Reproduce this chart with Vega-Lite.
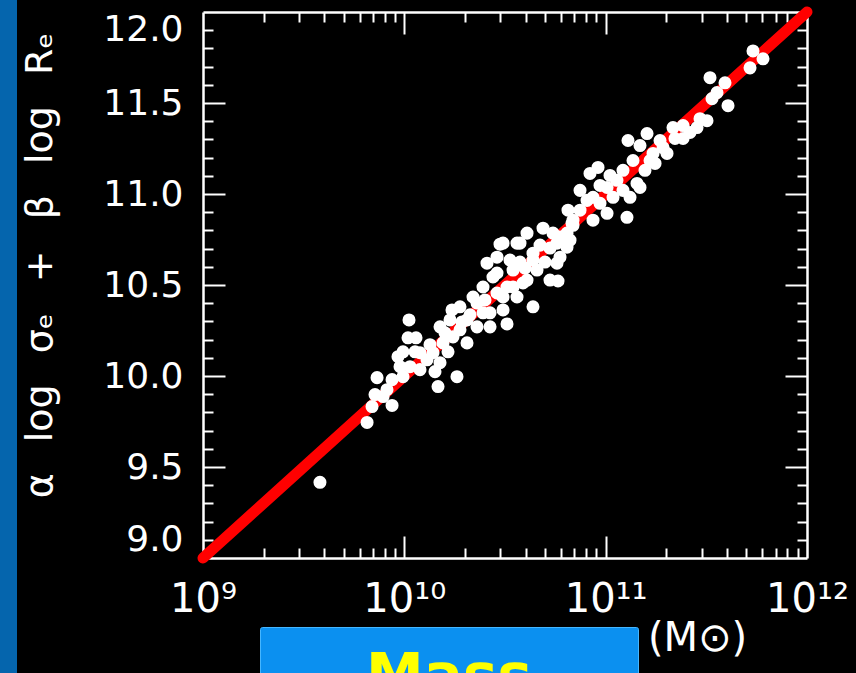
{
  "$schema": "https://vega.github.io/schema/vega-lite/v6.json",
  "width": 604,
  "height": 546,
  "autosize": "none",
  "padding": {"left": 203, "top": 12, "right": 49, "bottom": 115},
  "background": "#0565ad",
  "config": {
    "view": {"fill": "#000000", "stroke": "#000000", "strokeWidth": 372},
    "font": "DejaVu Sans",
    "axis": {
      "grid": false,
      "domainColor": "#ffffff",
      "tickColor": "#ffffff",
      "labelColor": "#ffffff",
      "titleColor": "#ffffff",
      "domainWidth": 2.5,
      "tickWidth": 2,
      "titleFontWeight": "normal"
    }
  },
  "datasets": {
    "fit": [{"mass": 1e9, "value": 9}, {"mass": 1e12, "value": 12}],
    "galaxies": [
      {"mass": 3.81e9, "value": 9.416}, {"mass": 6.53e9, "value": 9.745}, {"mass": 6.91e9, "value": 9.832},
      {"mass": 7.15e9, "value": 9.898}, {"mass": 7.32e9, "value": 9.991}, {"mass": 7.84e9, "value": 9.887},
      {"mass": 8.69e9, "value": 9.838}, {"mass": 9.52e9, "value": 10.051}, {"mass": 9.85e9, "value": 9.996},
      {"mass": 9.85e9, "value": 10.133}, {"mass": 1.055e10, "value": 10.308}, {"mass": 1.043e10, "value": 10.21},
      {"mass": 1.143e10, "value": 10.21}, {"mass": 1.067e10, "value": 10.051}, {"mass": 1.196e10, "value": 10.128},
      {"mass": 1.296e10, "value": 10.089}, {"mass": 1.388e10, "value": 10.128}, {"mass": 1.47e10, "value": 9.942},
      {"mass": 1.826e10, "value": 9.996}, {"mass": 1.504e10, "value": 10.073}, {"mass": 1.556e10, "value": 10.182},
      {"mass": 1.504e10, "value": 10.27}, {"mass": 1.686e10, "value": 10.308}, {"mass": 1.745e10, "value": 10.215},
      {"mass": 2.048e10, "value": 10.182}, {"mass": 2.048e10, "value": 10.308}, {"mass": 1.725e10, "value": 10.363},
      {"mass": 1.89e10, "value": 10.38}, {"mass": 2.194e10, "value": 10.434}, {"mass": 2.296e10, "value": 10.401},
      {"mass": 2.296e10, "value": 10.27}, {"mass": 2.665e10, "value": 10.347}, {"mass": 2.665e10, "value": 10.27},
      {"mass": 2.459e10, "value": 10.489}, {"mass": 2.886e10, "value": 10.566}, {"mass": 3.092e10, "value": 10.434},
      {"mass": 3.236e10, "value": 10.286}, {"mass": 3.467e10, "value": 10.489}, {"mass": 4.068e10, "value": 10.527},
      {"mass": 4.356e10, "value": 10.38}, {"mass": 3.349e10, "value": 10.637}, {"mass": 2.574e10, "value": 10.62},
      {"mass": 2.886e10, "value": 10.653}, {"mass": 2.987e10, "value": 10.724}, {"mass": 3.628e10, "value": 10.73},
      {"mass": 4.068e10, "value": 10.785}, {"mass": 4.356e10, "value": 10.675}, {"mass": 4.885e10, "value": 10.812},
      {"mass": 5.291e10, "value": 10.527}, {"mass": 5.798e10, "value": 10.522}, {"mass": 5.731e10, "value": 10.62},
      {"mass": 6.427e10, "value": 10.708}, {"mass": 6.884e10, "value": 10.828}, {"mass": 5.731e10, "value": 10.73},
      {"mass": 6.427e10, "value": 10.785}, {"mass": 6.501e10, "value": 10.911}, {"mass": 6.884e10, "value": 10.856},
      {"mass": 8.651e10, "value": 10.856}, {"mass": 7.458e10, "value": 11.02}, {"mass": 8.078e10, "value": 10.965},
      {"mass": 8.651e10, "value": 10.982}, {"mass": 8.36e10, "value": 11.113}, {"mass": 9.163e10, "value": 11.146},
      {"mass": 1.016e11, "value": 11.036}, {"mass": 1.016e11, "value": 10.894}, {"mass": 1.138e11, "value": 11.075},
      {"mass": 1.276e11, "value": 10.872}, {"mass": 1.321e11, "value": 10.982}, {"mass": 1.431e11, "value": 11.058},
      {"mass": 1.219e11, "value": 11.13}, {"mass": 1.367e11, "value": 11.184}, {"mass": 1.291e11, "value": 11.294},
      {"mass": 1.605e11, "value": 11.332}, {"mass": 1.481e11, "value": 11.266}, {"mass": 1.661e11, "value": 11.184},
      {"mass": 1.927e11, "value": 11.255}, {"mass": 2.017e11, "value": 11.223}, {"mass": 2.16e11, "value": 11.365},
      {"mass": 2.423e11, "value": 11.305}, {"mass": 2.843e11, "value": 11.365}, {"mass": 2.423e11, "value": 11.376},
      {"mass": 3.186e11, "value": 11.403}, {"mass": 3.375e11, "value": 11.524}, {"mass": 3.573e11, "value": 11.557},
      {"mass": 4.052e11, "value": 11.485}, {"mass": 3.915e11, "value": 11.611}, {"mass": 3.298e11, "value": 11.639},
      {"mass": 5.212e11, "value": 11.693}, {"mass": 5.393e11, "value": 11.786}, {"mass": 6.046e11, "value": 11.743},
      {"mass": 1.719e11, "value": 11.223}, {"mass": 1.341e10, "value": 10.172}, {"mass": 1.592e10, "value": 10.237},
      {"mass": 1.89e10, "value": 10.254}, {"mass": 2.12e10, "value": 10.336}, {"mass": 2.459e10, "value": 10.347},
      {"mass": 2.886e10, "value": 10.456}, {"mass": 2.756e10, "value": 10.544}, {"mass": 3.236e10, "value": 10.489},
      {"mass": 3.885e10, "value": 10.511}, {"mass": 3.467e10, "value": 10.582}, {"mass": 3.754e10, "value": 10.626},
      {"mass": 4.356e10, "value": 10.637}, {"mass": 4.72e10, "value": 10.719}, {"mass": 5.475e10, "value": 10.785},
      {"mass": 5.932e10, "value": 10.653}, {"mass": 6.139e10, "value": 10.746}, {"mass": 3.092e10, "value": 10.73},
      {"mass": 3.754e10, "value": 10.73}, {"mass": 9.374e10, "value": 10.949}, {"mass": 1.088e11, "value": 10.982},
      {"mass": 1.219e11, "value": 11.02}, {"mass": 1.481e11, "value": 11.036}, {"mass": 6.805e10, "value": 10.839},
      {"mass": 5.932e10, "value": 10.763}, {"mass": 6.651e10, "value": 10.746}, {"mass": 7.458e10, "value": 10.911},
      {"mass": 9.374e10, "value": 11.047}, {"mass": 1.051e11, "value": 11.102}, {"mass": 1.196e10, "value": 10.035},
      {"mass": 1.42e10, "value": 10.024}, {"mass": 1.648e10, "value": 10.133}, {"mass": 1.13e10, "value": 10.133},
      {"mass": 1.934e10, "value": 10.297}, {"mass": 2.516e10, "value": 10.418}, {"mass": 3.092e10, "value": 10.363},
      {"mass": 4.997e10, "value": 10.626}, {"mass": 5.291e10, "value": 10.703}, {"mass": 1.862e11, "value": 11.294},
      {"mass": 2.21e11, "value": 11.305}, {"mass": 2.624e11, "value": 11.338}, {"mass": 2.942e11, "value": 11.414},
      {"mass": 1.759e11, "value": 11.168}, {"mass": 1.568e11, "value": 11.13}, {"mass": 8.69e9, "value": 9.98},
      {"mass": 8.2e9, "value": 9.925}, {"mass": 9.3e9, "value": 10.106}, {"mass": 3.628e10, "value": 10.434},
      {"mass": 3.975e10, "value": 10.593}, {"mass": 4.56e10, "value": 10.582}
    ]
  },
  "resolve": {"axis": {"x": "independent", "y": "independent"}},
  "layer": [
    {
      "data": {"name": "fit"},
      "mark": {"type": "line", "color": "#ff0000", "strokeWidth": 11, "strokeCap": "round"},
      "encoding": {
        "x": {
          "field": "mass", "type": "quantitative",
          "scale": {"type": "log", "domain": [1e9, 1e12], "nice": false},
          "axis": {
            "orient": "bottom", "values": [1e9, 1e10, 1e11, 1e12], "ticks": false,
            "labelExpr": "round(log(datum.value)/LN10) == 9 ? '10⁹' : round(log(datum.value)/LN10) == 10 ? '10¹⁰' : round(log(datum.value)/LN10) == 11 ? '10¹¹' : '10¹²'",
            "labelFontSize": 40, "labelPadding": 21, "labelFlush": false, "labelOverlap": false, "labelBound": false,
            "title": "(M⊙)", "titleFontSize": 40, "titleX": 494, "titleY": 60, "titleBaseline": "top", "titleAlign": "center"
          }
        },
        "y": {
          "field": "value", "type": "quantitative",
          "scale": {"domain": [9, 12], "nice": false, "zero": false},
          "axis": {
            "orient": "left", "values": [9, 9.5, 10, 10.5, 11, 11.5, 12], "ticks": false, "format": ".1f",
            "labelFontSize": 36, "labelPadding": 20, "labelFlush": true, "labelFlushOffset": 0, "labelOverlap": false,
            "title": "α\u2002 log\u2002 σₑ\u2002 +\u2002 β\u2002 log\u2002 Rₑ", "titleFontSize": 38, "titleAngle": 270,
            "titleX": -163, "titleY": 253, "titleBaseline": "middle", "titleAlign": "center"
          }
        }
      }
    },
    {
      "data": {"name": "galaxies"},
      "mark": {"type": "circle", "opacity": 1, "size": 170},
      "encoding": {
        "x": {
          "field": "mass", "type": "quantitative",
          "axis": {"orient": "bottom", "values": [1e10, 1e11], "tickSize": -22, "labels": false, "domain": false, "title": null}
        },
        "y": {
          "field": "value", "type": "quantitative",
          "axis": {"orient": "left", "values": [9.5, 10, 10.5, 11, 11.5], "tickSize": -22, "labels": false, "domain": false, "title": null}
        },
        "color": {
          "datum": "Mass",
          "scale": {"range": ["#ffffff"]},
          "legend": {
            "orient": "none", "legendX": 57, "legendY": 615,
            "fillColor": "#0b90f0", "strokeColor": "#45b6ff", "cornerRadius": 2, "padding": 22,
            "title": "Mass", "titleColor": "#ffff00", "titleFontSize": 58, "titleFontWeight": "bold",
            "titleAnchor": "middle", "titleBaseline": "top", "titlePadding": 10,
            "symbolSize": 111000, "symbolOpacity": 0, "symbolStrokeWidth": 0,
            "labelExpr": "''", "labelFontSize": 12, "labelOpacity": 0, "labelOffset": 0
          }
        }
      }
    },
    {
      "data": {"name": "fit"},
      "mark": {"type": "line", "opacity": 0},
      "encoding": {
        "x": {
          "field": "mass", "type": "quantitative",
          "axis": {
            "orient": "bottom",
            "values": [2e9, 3e9, 4e9, 5e9, 6e9, 7e9, 8e9, 9e9, 2e10, 3e10, 4e10, 5e10, 6e10, 7e10, 8e10, 9e10, 2e11, 3e11, 4e11, 5e11, 6e11, 7e11, 8e11, 9e11],
            "tickSize": -10, "labels": false, "domain": false, "title": null
          }
        },
        "y": {
          "field": "value", "type": "quantitative",
          "axis": {
            "orient": "left",
            "values": [9.1, 9.2, 9.3, 9.4, 9.6, 9.7, 9.8, 9.9, 10.1, 10.2, 10.3, 10.4, 10.6, 10.7, 10.8, 10.9, 11.1, 11.2, 11.3, 11.4, 11.6, 11.7, 11.8, 11.9],
            "tickSize": -10, "labels": false, "domain": false, "title": null
          }
        }
      }
    },
    {
      "data": {"name": "fit"},
      "mark": {"type": "line", "opacity": 0},
      "encoding": {
        "x": {
          "field": "mass", "type": "quantitative",
          "axis": {"orient": "top", "values": [1e10, 1e11], "tickSize": -22, "labels": false, "domain": true, "title": null}
        },
        "y": {
          "field": "value", "type": "quantitative",
          "axis": {"orient": "right", "values": [9.5, 10, 10.5, 11, 11.5], "tickSize": -22, "labels": false, "domain": true, "title": null}
        }
      }
    },
    {
      "data": {"name": "fit"},
      "mark": {"type": "line", "opacity": 0},
      "encoding": {
        "x": {
          "field": "mass", "type": "quantitative",
          "axis": {
            "orient": "top",
            "values": [2e9, 3e9, 4e9, 5e9, 6e9, 7e9, 8e9, 9e9, 2e10, 3e10, 4e10, 5e10, 6e10, 7e10, 8e10, 9e10, 2e11, 3e11, 4e11, 5e11, 6e11, 7e11, 8e11, 9e11],
            "tickSize": -10, "labels": false, "domain": false, "title": null
          }
        },
        "y": {
          "field": "value", "type": "quantitative",
          "axis": {
            "orient": "right",
            "values": [9.1, 9.2, 9.3, 9.4, 9.6, 9.7, 9.8, 9.9, 10.1, 10.2, 10.3, 10.4, 10.6, 10.7, 10.8, 10.9, 11.1, 11.2, 11.3, 11.4, 11.6, 11.7, 11.8, 11.9],
            "tickSize": -10, "labels": false, "domain": false, "title": null
          }
        }
      }
    }
  ]
}
